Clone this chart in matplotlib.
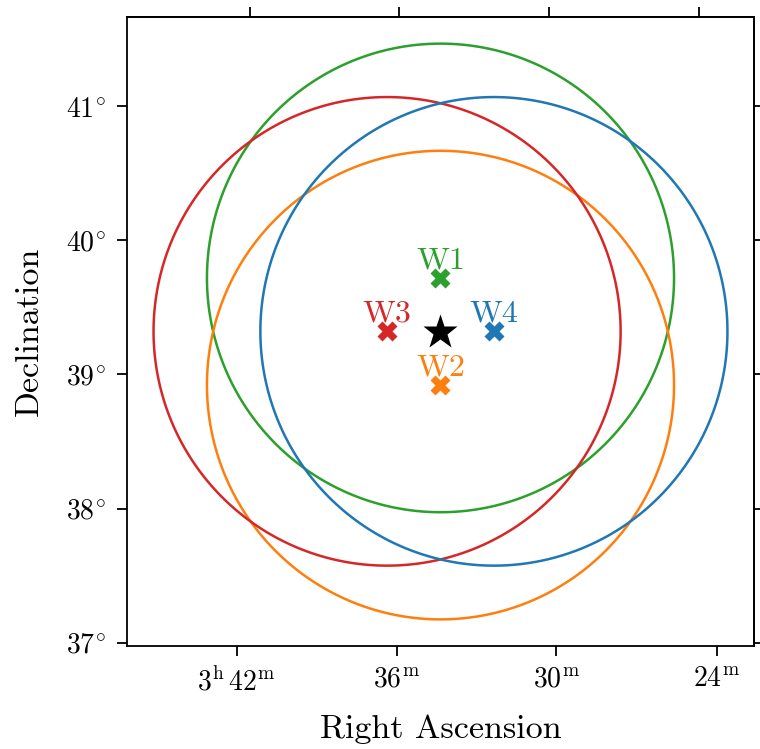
import numpy as np
import matplotlib.pyplot as plt
from matplotlib.patches import Polygon

plt.rcParams['font.family'] = 'serif'
plt.rcParams['font.serif'] = ['cmr10']
plt.rcParams['mathtext.fontset'] = 'cm'
plt.rcParams['axes.unicode_minus'] = False

# source position (deg), also used as projection centre
src_ra = 53.5875
src_dec = 39.36

# pointings: offsets from the source on the sky (deg)
names = ['W1', 'W2', 'W3', 'W4']
colors = ['tab:green', 'tab:orange', 'tab:red', 'tab:blue']
off_east = [0.0, 0.0, 0.4, -0.4]
off_north = [0.4, -0.4, 0.0, 0.0]
fov_radius = 1.75

half_width = 2.35  # field half-size in tangent-plane degrees

ra_tick_min = [42, 36, 30, 24]  # minutes past 3h
ra_tick_labels = [r'$3^{\rm h}\,42^{\rm m}$', r'$36^{\rm m}$', r'$30^{\rm m}$', r'$24^{\rm m}$']
dec_ticks = [37, 38, 39, 40, 41]
dec_tick_labels = [r'$%d^{\!\circ}$' % d for d in dec_ticks]


def tan_proj(ra, dec, ra0=src_ra, dec0=src_dec):
    # gnomonic projection, returns (xi, eta) in degrees, xi positive to the east
    a, d = np.radians(ra), np.radians(dec)
    a0, d0 = np.radians(ra0), np.radians(dec0)
    cosc = np.sin(d0) * np.sin(d) + np.cos(d0) * np.cos(d) * np.cos(a - a0)
    xi = np.cos(d) * np.sin(a - a0) / cosc
    eta = (np.cos(d0) * np.sin(d) - np.sin(d0) * np.cos(d) * np.cos(a - a0)) / cosc
    return np.degrees(xi), np.degrees(eta)


def sky_circle(ra_c, dec_c, r, n=400):
    th = np.linspace(0, 2 * np.pi, n, endpoint=False)
    dc, rr = np.radians(dec_c), np.radians(r)
    dec = np.arcsin(np.sin(dc) * np.cos(rr) + np.cos(dc) * np.sin(rr) * np.cos(th))
    ra = np.radians(ra_c) + np.arctan2(np.sin(th) * np.sin(rr) * np.cos(dc),
                                       np.cos(rr) - np.sin(dc) * np.sin(dec))
    return np.degrees(ra), np.degrees(dec)


# where the RA / Dec grid lines cross the frame
dec_grid = np.linspace(30, 50, 4001)
ra_grid = np.linspace(src_ra - 8, src_ra + 8, 4001)

def ra_ticks_at(eta_edge):
    pos = []
    for m in ra_tick_min:
        xi, eta = tan_proj(np.full_like(dec_grid, 15 * (3 + m / 60)), dec_grid)
        pos.append(np.interp(eta_edge, eta, xi))
    return pos

def dec_ticks_at(xi_edge):
    pos = []
    for d in dec_ticks:
        xi, eta = tan_proj(ra_grid, np.full_like(ra_grid, d))
        pos.append(np.interp(xi_edge, xi, eta))
    return pos


fig = plt.figure(figsize=(7.6, 7.49), dpi=100)
ax = fig.add_axes([0.1671, 0.1375, 0.825, 0.8398])

for name, c, de, dn in zip(names, colors, off_east, off_north):
    p_dec = src_dec + dn
    p_ra = src_ra + de / np.cos(np.radians(p_dec))
    cra, cdec = sky_circle(p_ra, p_dec, fov_radius)
    cx, cy = tan_proj(cra, cdec)
    ax.add_patch(Polygon(np.column_stack([cx, cy]), closed=True, fill=False,
                         edgecolor=c, lw=1.8))
    px, py = tan_proj(p_ra, p_dec)
    ax.plot(px, py, marker='X', color=c, ms=14, mec='none')
    ax.annotate(name, (px, py), xytext=(0, 7), textcoords='offset points',
                ha='center', va='baseline', color=c, fontsize=23)

sx, sy = tan_proj(src_ra, src_dec)
ax.plot(sx, sy, marker='*', color='k', ms=26, mec='none')

ax.set_xlim(half_width, -half_width)
ax.set_ylim(-half_width, half_width)

ax.set_xticks(ra_ticks_at(-half_width))
ax.set_xticklabels(ra_tick_labels)
ax.set_yticks(dec_ticks_at(half_width))
ax.set_yticklabels(dec_tick_labels)

top = ax.secondary_xaxis('top')
top.set_xticks(ra_ticks_at(half_width))
top.set_xticklabels([])
right = ax.secondary_yaxis('right')
right.set_yticks(dec_ticks_at(-half_width))
right.set_yticklabels([])

for a in (ax, top, right):
    a.tick_params(direction='out', length=7, width=1.3, labelsize=20, pad=8)
    for s in a.spines.values():
        s.set_linewidth(1.3)

ax.set_xlabel('Right Ascension', fontsize=24.5, labelpad=13)
ax.set_ylabel('Declination', fontsize=24.5, labelpad=16)

fig.savefig('out.png', dpi=100)
